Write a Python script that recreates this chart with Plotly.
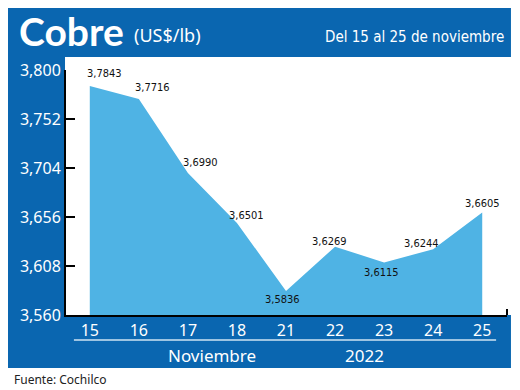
import plotly.graph_objects as go

dias = ["15", "16", "17", "18", "21", "22", "23", "24", "25"]
precios = [3.7843, 3.7716, 3.6990, 3.6501, 3.5836, 3.6269, 3.6115, 3.6244, 3.6605]
etiquetas = ["3,7843", "3,7716", "3,6990", "3,6501", "3,5836", "3,6269", "3,6115", "3,6244", "3,6605"]
y_ticks = [3.560, 3.608, 3.656, 3.704, 3.752, 3.800]
y_tick_labels = ["3,560", "3,608", "3,656", "3,704", "3,752", "3,800"]

# label offsets (px) relative to each point
label_dx = [15, 14, 13, 10, -4, -6, -3, -12, 0]
label_dy = [13, 11, 11, 8, -9, 5, -10, 6, 9]

BLUE = "#0a66b0"
FILL = "#4fb3e4"
OFF = 8  # page offset of the figure inside the browser window
W, H = 512, 382
L, R, T, B = 54, 13, 62, 75
pw, ph = W - L - R, H - T - B

def px(x):
    return (x - OFF - L) / pw

def py(y):
    return (H - B - (y - OFF)) / ph

cond = "DejaVu Sans Condensed, Roboto, sans-serif"

fig = go.Figure()
fig.add_trace(go.Scatter(
    x=list(range(len(dias))), y=precios, mode="lines", fill="tozeroy",
    fillcolor=FILL, line=dict(color=FILL, width=0), hoverinfo="skip",
))

for i, (v, t) in enumerate(zip(precios, etiquetas)):
    fig.add_annotation(x=i, y=v, text=t, showarrow=False, xref="x", yref="y",
                       xshift=label_dx[i], yshift=label_dy[i],
                       font=dict(family=cond, size=11, color="#111111"))

shapes = [
    dict(type="rect", xref="paper", yref="paper", x0=px(0), x1=px(511), y0=py(368), y1=py(8),
         fillcolor=BLUE, line=dict(width=0), layer="below"),
    dict(type="rect", xref="paper", yref="paper", x0=px(61), x1=px(530), y0=py(315), y1=py(57),
         fillcolor="white", line=dict(width=0), layer="below"),
    dict(type="line", xref="paper", yref="paper", x0=px(70), x1=px(496), y0=py(340), y1=py(340),
         line=dict(color="#cfe4f3", width=1.5)),
    dict(type="line", xref="paper", yref="paper", x0=1, x1=1, y0=0, y1=py(309),
         line=dict(color="black", width=2)),
]

anns = [
    dict(text="<b>Cobre</b>", x=px(13), y=py(31), xanchor="left", yanchor="middle",
         font=dict(family="Lato, Noto Sans, sans-serif", size=39, color="white")),
    dict(text="(US$/lb)", x=px(129), y=py(35), xanchor="left", yanchor="middle",
         font=dict(family="Noto Sans, sans-serif", size=18, color="white")),
    dict(text="Del 15 al 25 de noviembre", x=px(506), y=py(37), xanchor="right", yanchor="middle",
         font=dict(family=cond, size=15, color="white")),
    dict(text="Noviembre", x=px(209), y=py(355), xanchor="center", yanchor="middle",
         font=dict(family="Noto Sans, sans-serif", size=17, color="white")),
    dict(text="2022", x=px(363), y=py(355), xanchor="center", yanchor="middle",
         font=dict(family="Noto Sans, sans-serif", size=17, color="white")),
    dict(text="Fuente: Cochilco", x=px(8), y=py(379), xanchor="left", yanchor="middle",
         font=dict(family="Noto Sans, sans-serif", size=12, color="#222222")),
]
for a in anns:
    a.update(xref="paper", yref="paper", showarrow=False)
    fig.add_annotation(**a)

fig.update_layout(
    width=W, height=H, margin=dict(l=L, r=R, t=T, b=B, pad=0),
    paper_bgcolor="white", plot_bgcolor="rgba(0,0,0,0)",
    showlegend=False, shapes=shapes,
    xaxis=dict(tickmode="array", tickvals=list(range(len(dias))), ticktext=dias,
               range=[-0.485, 8.505], showgrid=False, zeroline=False,
               showline=True, linecolor="black", linewidth=2, ticks="",
               tickfont=dict(family="Noto Sans, sans-serif", size=16, color="white")),
    yaxis=dict(tickmode="array", tickvals=y_ticks, ticktext=y_tick_labels,
               range=[3.56, 3.80], showgrid=False, zeroline=False,
               showline=True, linecolor="black", linewidth=2,
               ticks="inside", ticklen=9, tickwidth=2, tickcolor="black",
               tickfont=dict(family="Noto Sans, sans-serif", size=16, color="white")),
)

fig.write_html("out.html")
